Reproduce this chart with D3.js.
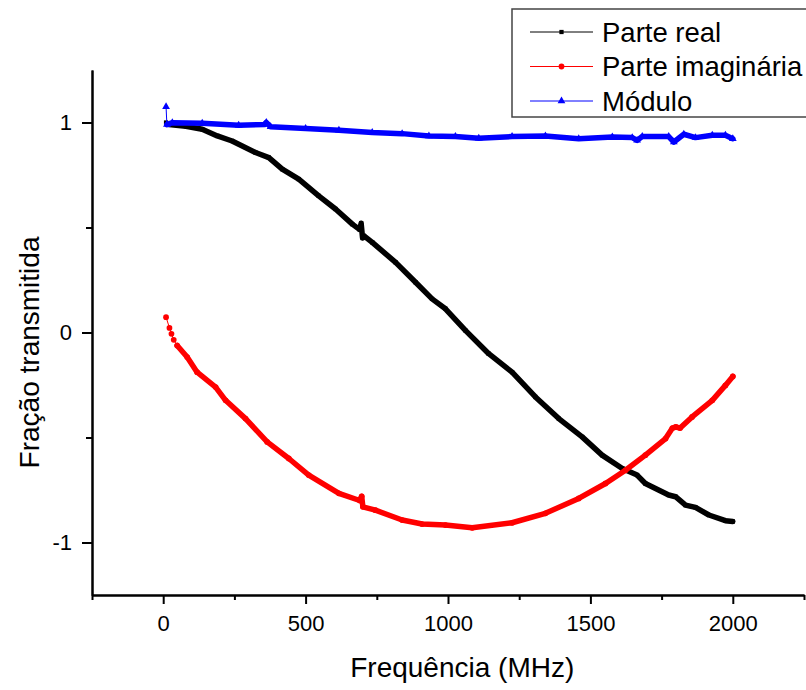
<!DOCTYPE html>
<html>
<head>
<meta charset="utf-8">
<script src="https://cdn.jsdelivr.net/npm/d3@7"></script>
<style>
  body { margin: 0; background: #fff; }
  text { font-family: "Liberation Sans", Arial, sans-serif; fill: #000; }
</style>
</head>
<body>
<div class="canvas"></div>
<script>
// data (MHz, fraction)
const freqReal = [10, 20, 80, 137, 190, 242, 324, 371, 418, 476, 546, 605, 664, 690, 695, 700, 705, 734, 816, 886, 944, 991, 1061, 1143, 1225, 1307, 1389, 1471, 1541, 1612, 1664, 1693, 1775, 1799, 1834, 1869, 1916, 1974, 2000]
const valReal = [1.0, 0.99, 0.982, 0.968, 0.936, 0.912, 0.857, 0.833, 0.778, 0.730, 0.651, 0.588, 0.516, 0.49, 0.52, 0.45, 0.46, 0.429, 0.334, 0.239, 0.160, 0.113, 0.010, -0.101, -0.189, -0.307, -0.410, -0.497, -0.584, -0.648, -0.679, -0.719, -0.774, -0.782, -0.822, -0.833, -0.869, -0.896, -0.90]

const freqImag = [10, 22, 29, 37, 49, 84, 119, 184, 219, 289, 365, 441, 511, 617, 690, 697, 701, 745, 839, 909, 991, 1085, 1225, 1342, 1459, 1553, 1623, 1693, 1764, 1788, 1800, 1815, 1857, 1928, 1974, 2000]
const valImag = [0.073, 0.022, -0.006, -0.035, -0.062, -0.117, -0.189, -0.260, -0.323, -0.410, -0.521, -0.600, -0.679, -0.766, -0.80, -0.78, -0.83, -0.846, -0.893, -0.912, -0.917, -0.930, -0.906, -0.861, -0.790, -0.719, -0.656, -0.584, -0.505, -0.455, -0.450, -0.455, -0.402, -0.323, -0.252, -0.209]

const freqMod = [10, 13, 32, 137, 265, 355, 362, 377, 500, 617, 734, 839, 933, 1026, 1108, 1225, 1342, 1459, 1577, 1647, 1664, 1682, 1775, 1793, 1828, 1869, 1928, 1974, 2000]
const valMod = [1.075, 0.99, 0.999, 0.996, 0.987, 0.99, 1.0, 0.980, 0.971, 0.963, 0.952, 0.947, 0.936, 0.933, 0.925, 0.933, 0.936, 0.923, 0.931, 0.928, 0.915, 0.933, 0.933, 0.907, 0.944, 0.928, 0.939, 0.939, 0.923]

const seriesNames = ['Parte real', 'Parte imaginária', 'Módulo']
const xMajorTicks = [0, 500, 1000, 1500, 2000]
const xMinorTicks = [-250, 250, 750, 1250, 1750, 2250]
const yMajorTicks = [-1, 0, 1]
const yMinorTicks = [-0.5, 0.5]

const svg = d3.select('.canvas')
  .append('svg')
    .attr('width', 806)
    .attr('height', 690)

const margin = { top: 70, right: 2, bottom: 95, left: 92 }
const graphWidth = 806 - margin.left - margin.right
const graphHeight = 690 - margin.top - margin.bottom

const graph = svg.append('g')
  .attr('transform', `translate(${margin.left},${margin.top})`)

const x = d3.scaleLinear()
  .domain([-250, 2250])
  .range([0, graphWidth])

const y = d3.scaleLinear()
  .domain([-1.25, 1.25])
  .range([graphHeight, 0])

// series
const series = [
  { name: seriesNames[0], colour: '#000000', shape: d3.symbolSquare, size: 18, denseFrom: 1,
    data: freqReal.map((f, i) => ({ f, v: valReal[i] })) },
  { name: seriesNames[1], colour: '#ff0000', shape: d3.symbolCircle, size: 26, denseFrom: 4,
    data: freqImag.map((f, i) => ({ f, v: valImag[i] })) },
  { name: seriesNames[2], colour: '#0000ff', shape: d3.symbolTriangle, size: 26, denseFrom: 1,
    data: freqMod.map((f, i) => ({ f, v: valMod[i] })) }
]

const line = d3.line()
  .x(d => x(d.f))
  .y(d => y(d.v))

series.forEach(s => {
  const g = graph.append('g')
  // thin connecting line
  g.append('path')
    .attr('d', line(s.data))
    .attr('fill', 'none')
    .attr('stroke', s.colour)
    .attr('stroke-width', 1)
  // dense band of markers
  g.append('path')
    .attr('d', line(s.data.slice(s.denseFrom)))
    .attr('fill', 'none')
    .attr('stroke', s.colour)
    .attr('stroke-width', 5.5)
    .attr('stroke-linejoin', 'round')
    .attr('stroke-linecap', 'round')
  g.selectAll('path.mark')
    .data(s.data)
    .enter()
    .append('path')
      .attr('class', 'mark')
      .attr('d', d3.symbol().type(s.shape).size(s.size))
      .attr('transform', d => `translate(${x(d.f)},${y(d.v)})`)
      .attr('fill', s.colour)
})

// axes
const xAxisGroup = graph.append('g')
  .attr('transform', `translate(0, ${graphHeight})`)
const xMinorGroup = graph.append('g')
  .attr('transform', `translate(0, ${graphHeight})`)
const yAxisGroup = graph.append('g')
const yMinorGroup = graph.append('g')

const xAxis = d3.axisBottom(x)
  .tickValues(xMajorTicks)
  .tickSize(9)
  .tickPadding(5)
  .tickSizeOuter(0)
  .tickFormat(d3.format('d'))
const xMinor = d3.axisBottom(x)
  .tickValues(xMinorTicks)
  .tickSize(5)
  .tickFormat('')
  .tickSizeOuter(0)
const yAxis = d3.axisLeft(y)
  .tickValues(yMajorTicks)
  .tickSize(10)
  .tickPadding(10)
  .tickSizeOuter(0)
  .tickFormat(d => d)
const yMinor = d3.axisLeft(y)
  .tickValues(yMinorTicks)
  .tickSize(6)
  .tickFormat('')
  .tickSizeOuter(0)

xAxisGroup.call(xAxis)
xMinorGroup.call(xMinor)
yAxisGroup.call(yAxis)
yMinorGroup.call(yMinor)

graph.selectAll('.domain, .tick line')
  .attr('stroke', '#000')
  .attr('stroke-width', 2)

xAxisGroup.selectAll('text')
  .attr('font-size', 22)
  .attr('font-family', '"Liberation Sans", Arial, sans-serif')
  .attr('fill', '#000')
  .attr('dy', '1.0em')
yAxisGroup.selectAll('text')
  .attr('font-size', 22)
  .attr('font-family', '"Liberation Sans", Arial, sans-serif')
  .attr('fill', '#000')

// axis titles
svg.append('text')
  .attr('x', margin.left + x(1050))
  .attr('y', 677)
  .attr('text-anchor', 'middle')
  .attr('font-size', 28)
  .text('Frequência (MHz)')

svg.append('text')
  .attr('transform', `translate(39, ${margin.top + y(-0.095)}) rotate(-90)`)
  .attr('text-anchor', 'middle')
  .attr('font-size', 28)
  .text('Fração transmitida')

// legend
const legendGroup = svg.append('g')
  .attr('transform', 'translate(512, 9)')

legendGroup.append('rect')
  .attr('width', 300)
  .attr('height', 108)
  .attr('fill', '#fff')
  .attr('stroke', '#444')
  .attr('stroke-width', 1.5)

const items = legendGroup.selectAll('g.item')
  .data(series)
  .enter()
  .append('g')
    .attr('class', 'item')
    .attr('transform', (d, i) => `translate(0, ${23 + i * 34.5})`)

items.append('line')
  .attr('x1', 18)
  .attr('x2', 81)
  .attr('stroke', d => d.colour)
  .attr('stroke-width', 1)
items.append('path')
  .attr('d', d => d3.symbol().type(d.shape).size(d.size)())
  .attr('transform', 'translate(49.5, 0)')
  .attr('fill', d => d.colour)
items.append('text')
  .attr('x', 90)
  .attr('dy', '0.36em')
  .attr('font-size', 27.5)
  .text(d => d.name)
</script>
</body>
</html>
